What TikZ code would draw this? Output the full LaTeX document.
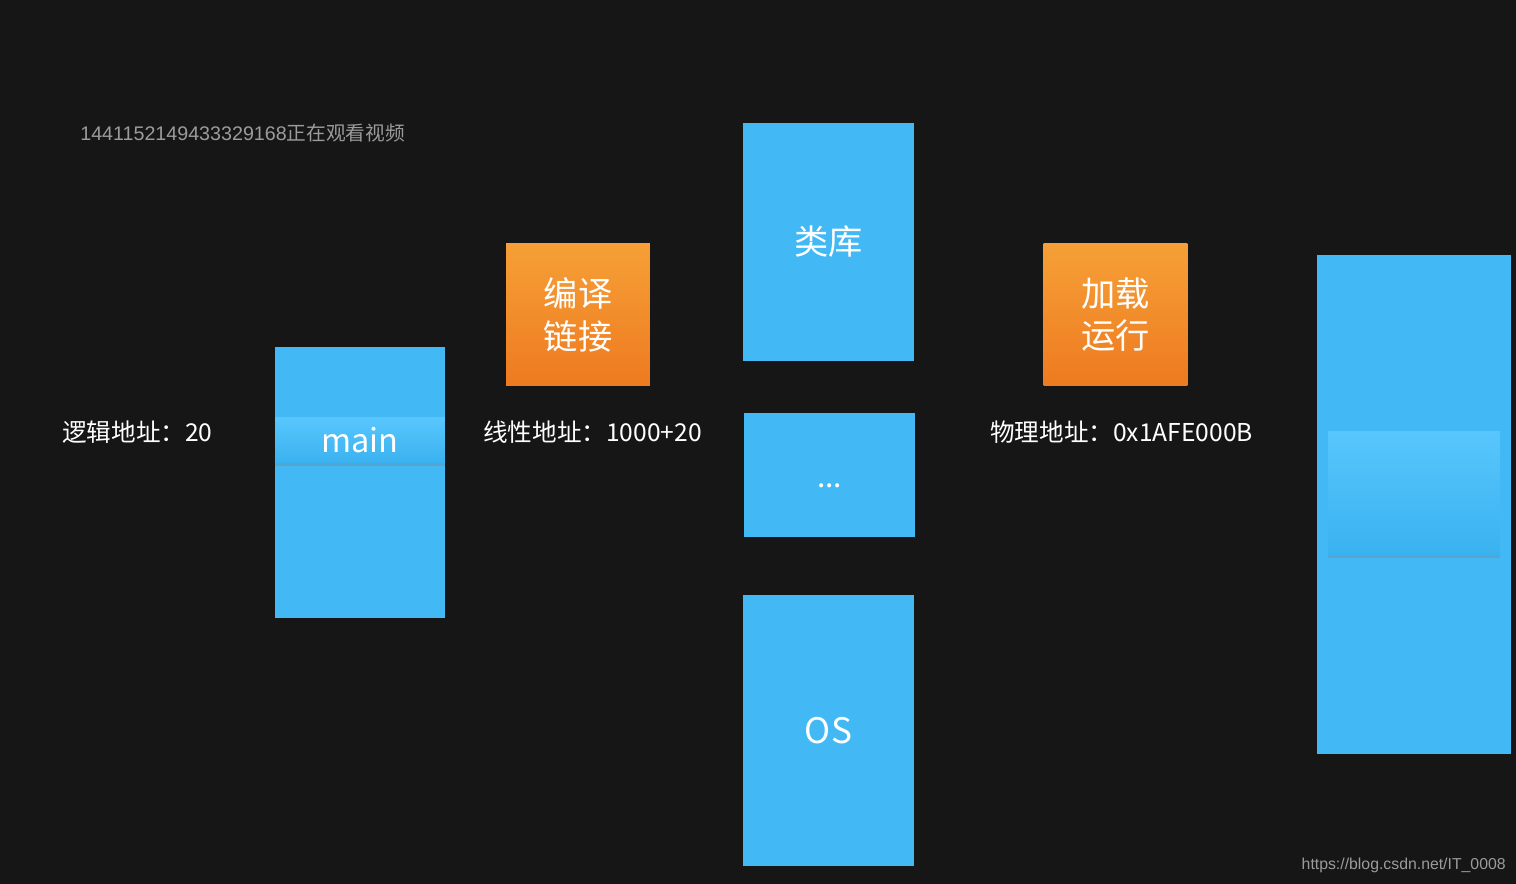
\documentclass[tikz,border=0pt]{standalone}
\usepackage{fontspec}
\setmainfont{Noto Sans CJK SC}
\newfontfamily\wmfont{Liberation Sans}
\usetikzlibrary{shadows}
\definecolor{boardblack}{RGB}{22,22,22}
\definecolor{memblue}   {RGB}{66,185,245}
\definecolor{bandtop}   {RGB}{88,198,252}
\definecolor{bandbot}   {RGB}{58,178,240}
\definecolor{orangetop} {RGB}{246,160,55}
\definecolor{orangebot} {RGB}{238,122,32}
\definecolor{wmgray}    {RGB}{155,155,155}

\begin{document}
\begin{tikzpicture}[
  x=0.02cm, y=-0.02cm,
  memblock/.style={rectangle, fill=memblue, text=white, inner sep=0pt},
  band/.style={rectangle, top color=bandtop, bottom color=bandbot,
    text=white, inner sep=0pt,
    drop shadow={shadow xshift=0pt, shadow yshift=-1.5pt, opacity=0.35}},
  stepbox/.style={rectangle, top color=orangetop, bottom color=orangebot,
    text=white, align=center, inner sep=0pt,
    minimum width=2.88cm, minimum height=2.86cm,
    font=\fontsize{19.5pt}{24.4pt}\selectfont},
  addr/.style={anchor=west, text=white, inner sep=0pt,
    font=\fontsize{14pt}{16pt}\selectfont},
  wmark/.style={text=wmgray, inner sep=0pt},
]

% board
\fill[boardblack] (0,0) rectangle (1516,884);

% logical memory
\node[memblock, minimum width=3.4cm, minimum height=5.42cm] (mainmem) at (360,482.5) {};
\node[band, minimum width=3.4cm, minimum height=0.9cm,
      font=\fontsize{18.5pt}{22pt}\selectfont] (mainfn) at (360,440.5) {main};
\node[addr] (logaddr) at (62,432) {逻辑地址：20};

% compile + link
\node[stepbox] (compile) at (578,314.5) {编译\\链接};
\node[addr] (linaddr) at (483,432) {线性地址：1000+20};

% linear address space
\node[memblock, minimum width=3.42cm, minimum height=4.76cm,
      font=\fontsize{19.5pt}{24pt}\selectfont] (libs) at (828.5,242) {类库};
\node[memblock, minimum width=3.42cm, minimum height=2.48cm,
      text height=0.52cm, text depth=0pt,
      font=\fontsize{17pt}{20pt}\selectfont] (dots) at (829.5,475) {...};
\node[memblock, minimum width=3.42cm, minimum height=5.42cm,
      font=\fontsize{20pt}{24pt}\selectfont] (os) at (828.5,730.5) {OS};

% load + run
\node[stepbox] (loadrun) at (1115.5,314.5) {加载\\运行};
\node[addr] (physaddr) at (990,432) {物理地址：0x1AFE000B};

% physical memory
\node[memblock, minimum width=3.88cm, minimum height=9.98cm] (physmem) at (1414,504.5) {};
\node[band, minimum width=3.44cm, minimum height=2.48cm] (proc) at (1414,493) {};

% watermarks
\node[wmark, anchor=west, font=\fontsize{11.2pt}{13pt}\selectfont] (viewer)
  at (80,133) {{\wmfont 1441152149433329168}正在观看视频};
\node[wmark, anchor=east, font=\wmfont\fontsize{9pt}{11pt}\selectfont] (blogurl)
  at (1506,865) {https://blog.csdn.net/IT\_0008};

\end{tikzpicture}
\end{document}
